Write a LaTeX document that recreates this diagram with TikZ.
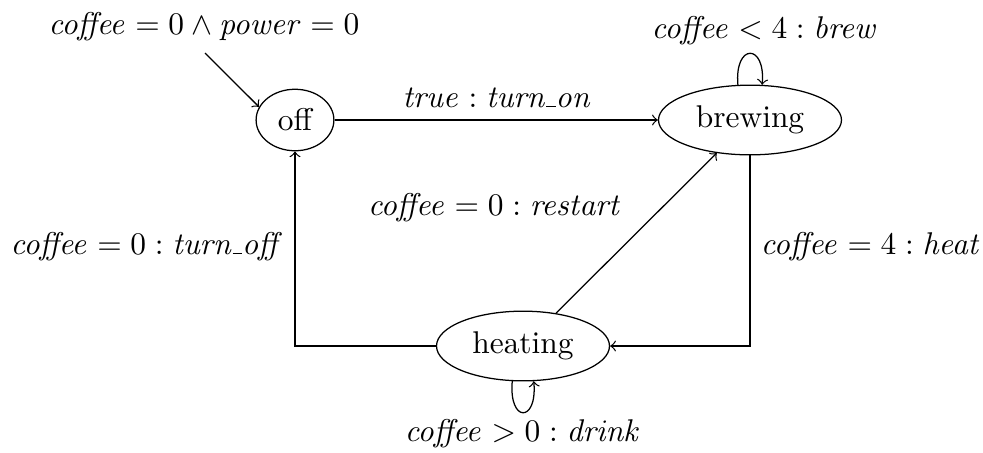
\documentclass[tikz,border=0pt]{standalone}
\usetikzlibrary{shapes.geometric}
\newcommand\us{\kern.06em\vbox{\hrule width.3em}}
\begin{document}
\begin{tikzpicture}[x=0.318pt,y=0.318pt,
  state/.style={draw,ellipse},
  lbl/.style={inner sep=0pt,anchor=base},
  tr/.style={->}]
\useasboundingbox (0,0) rectangle (983,452);
\node[state] (off) at (295,332) {off};
\node[state] (brewing) at (750,332) {brewing};
\node[state] (heating) at (523,106) {heating};
\coordinate (init) at (205,399);
\node[lbl] (linit) at (204,418) {$\mathit{coffee} = 0 \land \mathit{power} = 0$};
\node[lbl] (lon) at (496,345) {$\mathit{true} : \textit{turn\us on}$};
\node[lbl] (lbrew) at (765,414) {$\mathit{coffee} < 4 : \mathit{brew}$};
\node[lbl] (lrestart) at (495,237) {$\mathit{coffee} = 0 : \mathit{restart}$};
\node[lbl] (loff) at (144,198) {$\mathit{coffee} = 0 : \textit{turn\us off}$};
\node[lbl] (lheat) at (871,198) {$\mathit{coffee} = 4 : \mathit{heat}$};
\node[lbl] (ldrink) at (523,11) {$\mathit{coffee} > 0 : \mathit{drink}$};
\draw[tr] (init) -- (off.160);
\draw[tr] (off) -- (brewing);
\draw[tr] (brewing.109) .. controls +(95:42) and +(85:42) .. (brewing.71);
\draw[tr] (brewing.south) |- (heating.east);
\draw[tr] (heating) -- (brewing);
\draw[tr] (heating.west) -| (off.south);
\draw[tr] (heating.-107) .. controls +(-95:42) and +(-85:42) .. (heating.-73);
\end{tikzpicture}
\end{document}
